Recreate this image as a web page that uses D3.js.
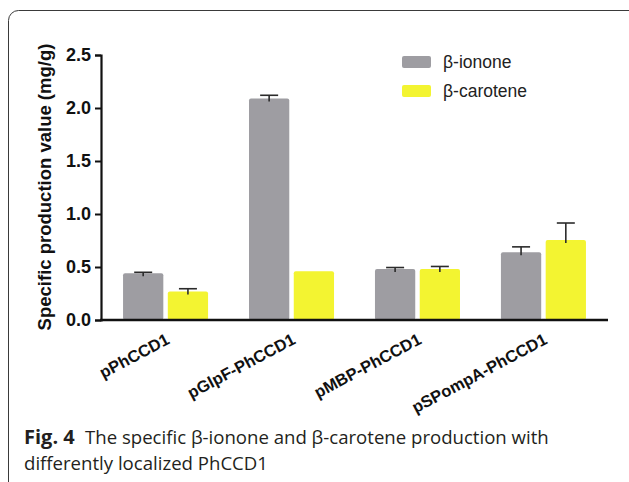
<!DOCTYPE html>
<html>
<head>
<meta charset="utf-8">
<script src="https://cdn.jsdelivr.net/npm/d3@7"></script>
<style>
  body { margin: 0; background: #fff; }
  svg { display: block; }
</style>
</head>
<body>
<script>
// data
var constructs = ["pPhCCD1", "pGlpF-PhCCD1", "pMBP-PhCCD1", "pSPompA-PhCCD1"];
var seriesNames = ["β-ionone", "β-carotene"];
var iononeValues = [0.44, 2.09, 0.48, 0.64];
var iononeErrors = [0.01, 0.03, 0.015, 0.05];
var caroteneValues = [0.27, 0.46, 0.48, 0.755];
var caroteneErrors = [0.025, 0, 0.025, 0.16];
var yTicks = [0, 0.5, 1.0, 1.5, 2.0, 2.5];

var colors = {"β-ionone": "#9e9da2", "β-carotene": "#f3f431"};

var W = 629, H = 482;
var svg = d3.select("body").append("svg")
	.attr("width", W)
	.attr("height", H);

// frame of the figure panel
svg.append("rect")
	.attr("x", 8.5).attr("y", 10.5)
	.attr("width", 700).attr("height", 600)
	.attr("rx", 10)
	.attr("fill", "none")
	.attr("stroke", "#3a3a3a")
	.attr("stroke-width", 1);

var rows = constructs.map(function(c, i) {
	return {
		name: c,
		vals: [
			{key: seriesNames[0], v: iononeValues[i], e: iononeErrors[i]},
			{key: seriesNames[1], v: caroteneValues[i], e: caroteneErrors[i]}
		]
	};
});

var x0 = d3.scaleBand().domain(constructs)
	.range([101, 608])
	.paddingInner(0.325)
	.paddingOuter(0.175);
var x1 = d3.scaleBand().domain(seriesNames)
	.range([0, x0.bandwidth()])
	.paddingInner(0.1);
var y = d3.scaleLinear().domain([0, 2.5]).range([320, 55]);

var chartFont = "'Liberation Sans', Arial, sans-serif";

// bars
var groups = svg.append("g").selectAll("g")
	.data(rows).enter().append("g")
	.attr("transform", function(d) { return "translate(" + x0(d.name) + ",0)"; });

groups.selectAll("rect")
	.data(function(d) { return d.vals; })
	.enter().append("rect")
	.attr("x", function(d) { return x1(d.key); })
	.attr("y", function(d) { return y(d.v); })
	.attr("width", x1.bandwidth())
	.attr("height", function(d) { return y(0) - y(d.v); })
	.attr("rx", 2)
	.attr("fill", function(d) { return colors[d.key]; });

// error bars (upper only)
var errs = groups.selectAll("g.err")
	.data(function(d) { return d.vals.filter(function(v) { return v.e > 0; }); })
	.enter().append("g").attr("class", "err")
	.attr("stroke", "#2b2b2b").attr("stroke-width", 1.6);
errs.append("line")
	.attr("x1", function(d) { return x1(d.key) + x1.bandwidth() / 2; })
	.attr("x2", function(d) { return x1(d.key) + x1.bandwidth() / 2; })
	.attr("y1", function(d) { return y(d.v) + 3; })
	.attr("y2", function(d) { return y(d.v + d.e); });
errs.append("line")
	.attr("x1", function(d) { return x1(d.key) + x1.bandwidth() / 2 - 9; })
	.attr("x2", function(d) { return x1(d.key) + x1.bandwidth() / 2 + 9; })
	.attr("y1", function(d) { return y(d.v + d.e); })
	.attr("y2", function(d) { return y(d.v + d.e); });

// y axis
var yAxis = svg.append("g")
	.attr("transform", "translate(101,0)")
	.call(d3.axisLeft(y).tickValues(yTicks).tickFormat(d3.format(".1f")).tickSizeOuter(0).tickSize(6).tickPadding(4));
yAxis.select(".domain").attr("stroke", "#111").attr("stroke-width", 2.2);
yAxis.selectAll(".tick line").attr("stroke", "#111").attr("stroke-width", 2);
yAxis.selectAll(".tick text")
	.attr("font-family", chartFont)
	.attr("font-weight", "bold")
	.attr("font-size", 18)
	.attr("fill", "#111");

// x axis line
svg.append("line")
	.attr("x1", 100).attr("x2", 608)
	.attr("y1", y(0)).attr("y2", y(0))
	.attr("stroke", "#111").attr("stroke-width", 2.6);

// x labels, rotated
svg.append("g").selectAll("text")
	.data(constructs).enter().append("text")
	.attr("transform", function(d) {
		return "translate(" + (x0(d) + x0.bandwidth() / 2 + 5) + ",343) rotate(-28)";
	})
	.attr("text-anchor", "end")
	.attr("font-family", chartFont)
	.attr("font-weight", "bold")
	.attr("font-size", 16.5)
	.attr("fill", "#111")
	.text(function(d) { return d; });

// y title
svg.append("text")
	.attr("transform", "translate(51,187) rotate(-90)")
	.attr("text-anchor", "middle")
	.attr("font-family", chartFont)
	.attr("font-weight", "bold")
	.attr("font-size", 18.5)
	.attr("fill", "#111")
	.text("Specific production value (mg/g)");

// legend
var legend = svg.append("g").selectAll("g")
	.data(seriesNames).enter().append("g")
	.attr("transform", function(d, i) { return "translate(402," + (56 + i * 29) + ")"; });
legend.append("rect")
	.attr("width", 29).attr("height", 12).attr("rx", 2)
	.attr("fill", function(d) { return colors[d]; });
legend.append("text")
	.attr("x", 41).attr("y", 6)
	.attr("dy", "0.35em")
	.attr("font-family", chartFont)
	.attr("font-size", 17.5)
	.attr("fill", "#222")
	.text(function(d) { return d; });

// caption
var capFont = "'Open Sans', 'Noto Sans', sans-serif";
var cap = svg.append("text")
	.attr("x", 24).attr("y", 444)
	.attr("font-family", capFont)
	.attr("font-size", 18.6)
	.attr("fill", "#231f20");
cap.append("tspan").attr("font-weight", "bold").attr("font-size", 20).text("Fig. 4");
cap.append("tspan").attr("x", 85).text("The specific β-ionone and β-carotene production with");
svg.append("text")
	.attr("x", 24).attr("y", 470)
	.attr("font-family", capFont)
	.attr("font-size", 18.6)
	.attr("fill", "#231f20")
	.text("differently localized PhCCD1");
</script>
</body>
</html>
